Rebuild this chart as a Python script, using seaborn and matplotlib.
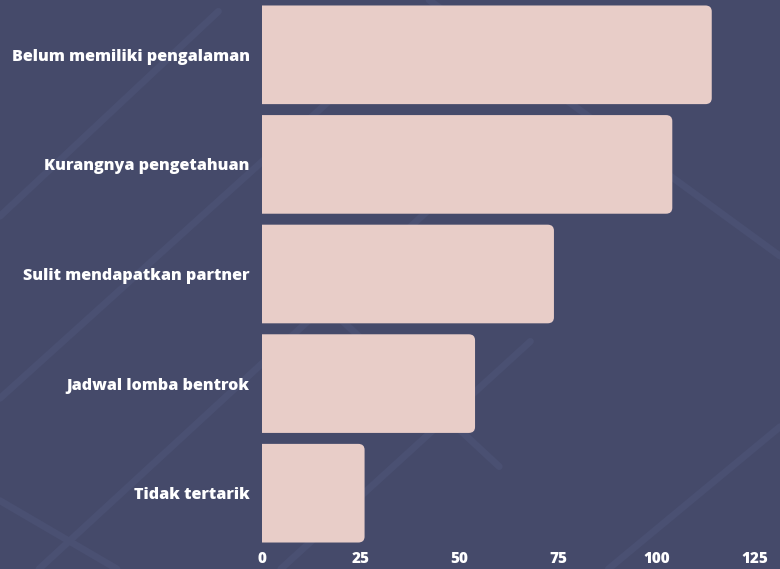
import seaborn as sns
import pandas as pd
import matplotlib.pyplot as plt
from matplotlib.patches import FancyBboxPatch
from matplotlib.lines import Line2D

reasons = ["Belum memiliki pengalaman", "Kurangnya pengetahuan",
           "Sulit mendapatkan partner", "Jadwal lomba bentrok", "Tidak tertarik"]
counts = [114, 104, 74, 54, 26]
xticks = [0, 25, 50, 75, 100, 125]

bg = "#454a6a"
bar_color = "#e8cdc8"

sns.set_style("white")
plt.rcParams['font.family'] = ['Open Sans', 'DejaVu Sans']

df = pd.DataFrame({"reason": reasons, "count": counts})

fig = plt.figure(figsize=(7.8, 5.69), dpi=100, facecolor=bg)

# faint diagonal decoration in the background
deco = [((0.0, 0.62), (0.28, 0.98)), ((0.0, 0.30), (0.42, 0.82)),
        ((0.05, 0.0), (0.62, 0.72)), ((0.36, 0.0), (0.68, 0.40)),
        ((0.55, 1.0), (1.0, 0.55)), ((0.78, 0.0), (1.0, 0.25)),
        ((0.42, 0.46), (0.64, 0.18)), ((0.0, 0.12), (0.15, 0.0))]
for (x0, y0), (x1, y1) in deco:
    fig.add_artist(Line2D([x0, x1], [y0, y1], transform=fig.transFigure,
                          color="#4a5072", lw=5, zorder=0))

ax = fig.add_axes([262 / 780, 21 / 569, 518 / 780, 548 / 569])
ax.set_facecolor("none")
sns.barplot(data=df, x="count", y="reason", color=bar_color, width=0.9,
            saturation=1, ax=ax)

# swap bars for rounded ones
for p in list(ax.patches):
    x, y = p.get_x(), p.get_y()
    w, h = p.get_width(), p.get_height()
    p.remove()
    ax.add_patch(FancyBboxPatch((x - 3, y), w + 3, h,
                                boxstyle="round,pad=0,rounding_size=1.6",
                                mutation_aspect=0.034, fc=bar_color,
                                ec="none", zorder=2))

ax.set_xlim(0, 131.3)
ax.set_xticks(xticks)
ax.set_xlabel("")
ax.set_ylabel("")
for s in ax.spines.values():
    s.set_visible(False)
ax.tick_params(axis="x", length=0, labelsize=11, pad=2)
ax.tick_params(axis="y", length=0, labelsize=11.6, pad=9)
for t in ax.get_xticklabels() + ax.get_yticklabels():
    t.set_fontweight("heavy")
    t.set_color("white")

fig.savefig("out.png", dpi=100, facecolor=bg)
